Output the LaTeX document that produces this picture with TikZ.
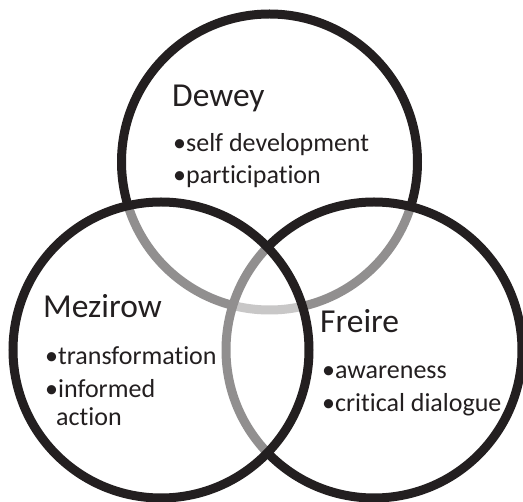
\documentclass[tikz,border=0pt]{standalone}
\usepackage{fontspec}
\setmainfont{Carlito}[Ligatures={NoCommon}]
\definecolor{ink}{HTML}{231F20}
\begin{document}
\begin{tikzpicture}[x=1pt,y=-1pt,
  ring/.style={line width=9pt, draw=ink},
  veil/.style={ring, fill=white, fill opacity=0.5},
  title/.style={anchor=base west, inner sep=0pt, font=\fontsize{33.5}{40}\selectfont, text=ink},
  item/.style={anchor=base west, inner sep=0pt, font=\fontsize{26}{30}\selectfont, text=ink}]
\useasboundingbox (0,0) rectangle (523,502);
\fill[white] (0,0) rectangle (523,502);
% circles
\draw[ring] (269.5,162) circle[radius=148pt];
\draw[veil] (374,350) circle[radius=148pt];
\draw[veil] (161,350) circle[radius=148pt];
% Dewey
\node[title] (dewey) at (172,107) {Dewey};
\node[item] (d1) at (173,152) {•self development};
\node[item] (d2) at (173,184) {•participation};
% Mezirow
\node[title] (mezirow) at (43,318) {Mezirow};
\node[item] (m1) at (45,365) {•transformation};
\node[item] (m2) at (45,398) {•informed};
\node[item] (m3) at (56,426) {action};
% Freire
\node[title] (freire) at (320,333) {Freire};
\node[item] (f1) at (322,379) {•awareness};
\node[item] (f2) at (322,412) {•critical dialogue};
\end{tikzpicture}
\end{document}
